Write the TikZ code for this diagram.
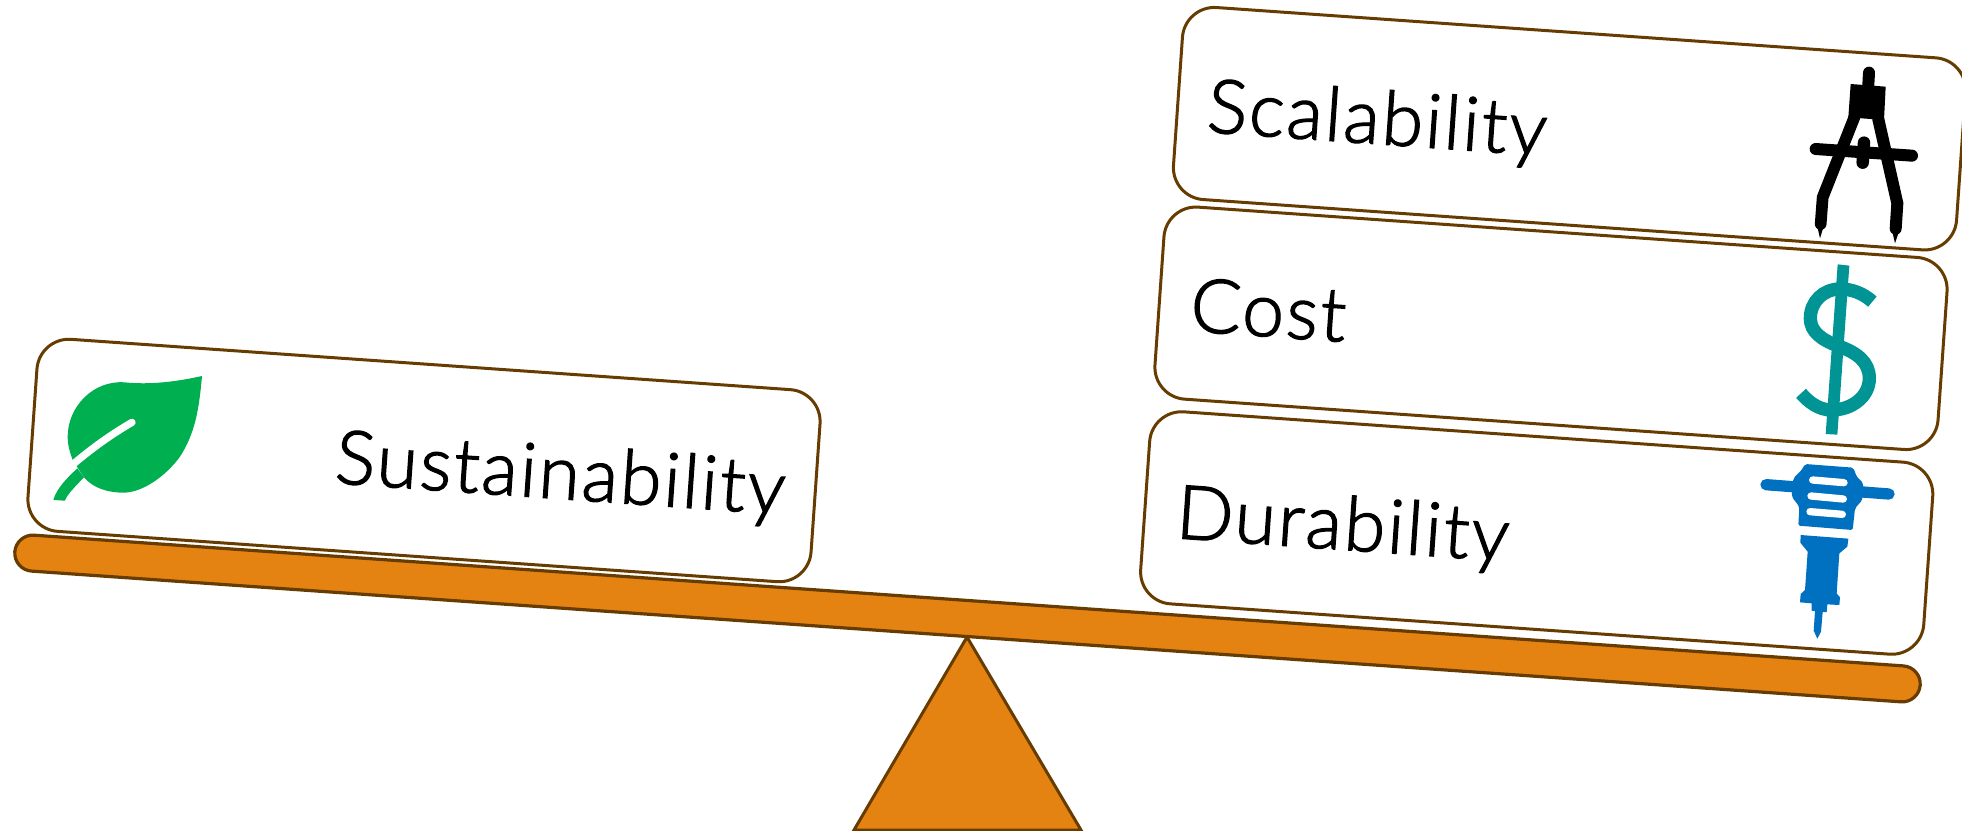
\documentclass[tikz,border=0pt]{standalone}
\usepackage{fontspec}
\setmainfont{Lato}[UprightFont=* Light,LetterSpace=2.8,FakeBold=1.8]
\definecolor{edgebrown}{HTML}{663C00}
\definecolor{beamorange}{HTML}{E48312}
\definecolor{leafgreen}{HTML}{00B050}
\definecolor{dollarteal}{HTML}{009494}
\definecolor{hammerblue}{HTML}{0070C0}
\tikzset{
  card/.style={draw=edgebrown,line width=3pt,fill=white,rectangle,rounded corners=32pt,minimum width=785pt,minimum height=192.5pt,inner sep=0pt,outer sep=0pt,rotate=-4},
  beam/.style={draw=edgebrown,line width=3.2pt,fill=beamorange,rectangle,rounded corners=18pt,minimum width=1910pt,minimum height=36pt,inner sep=0pt,outer sep=0pt,rotate=-4},
  lbl/.style={anchor=base west,inner sep=0pt,outer sep=0pt,rotate=-4,text=black,font=\fontsize{75}{90}\selectfont},
  zoomgrid/.style={x=0.33333pt,y=-0.33333pt},
}
\begin{document}
\begin{tikzpicture}[x=1pt,y=-1pt]
\useasboundingbox (0,0) rectangle (1962,830);
\clip (0,0) rectangle (1962,830);
\fill[white] (0,0) rectangle (1962,830);
% fulcrum
\draw[edgebrown,line width=3pt,fill=beamorange,line join=miter] (967,637) -- (1081,830) -- (854,830) -- cycle;
% beam
\node[beam] (plank) at (967.5,618.5) {};
% cards
\node[card] (cardsus) at (424,460.5) {};
\node[card] (cardsca) at (1569.5,128.7) {};
\node[card] (cardcos) at (1551,328.3) {};
\node[card] (carddur) at (1536.7,533) {};
% labels
\node[lbl] (tsus) at (334,483) {Sustainability};
\node[lbl] (tsca) at (1206,132) {Scalability};
\node[lbl] (tcos) at (1189,331) {Cost};
\node[lbl] (tdur) at (1175,538) {Durability};
% leaf
\begin{scope}[shift={(0,400)},zoomgrid]
\fill[leafgreen] (606,-72) .. controls (530,-55) and (450,-45) .. (374,-53)
  .. controls (280,-60) and (203,20) .. (203,110)
  .. controls (203,135) and (210,160) .. (219,182) -- (252,232)
  .. controls (280,265) and (325,278) .. (370,278)
  .. controls (430,278) and (500,225) .. (540,170)
  .. controls (585,100) and (597,30) .. (606,-72) -- cycle;
\draw[white,line width=7.3pt,line cap=round] (396,67) .. controls (340,100) and (280,140) .. (205,205);
\fill[leafgreen] (160,300) .. controls (170,265) and (200,235) .. (232,205) -- (252,232)
  .. controls (225,260) and (200,285) .. (195,302) -- cycle;
\end{scope}
% compass
\begin{scope}[shift={(1700,40)},zoomgrid]
\draw[black,line width=12pt,line cap=round] (507,98) -- (504,150);
\fill[black] (452,132) -- (557,140) -- (552,240) -- (445,232) -- cycle;
\draw[black,line width=11.7pt,line join=miter,line cap=round] (463,232) -- (368,472) -- (362,552);
\draw[black,line width=12pt,line join=miter,line cap=round] (535,238) -- (592,490) -- (587,566);
\fill[black] (352,560) -- (370,562) -- (360,595) -- cycle;
\fill[black] (577,575) -- (596,577) -- (585,610) -- cycle;
\draw[black,line width=12pt,line cap=round] (347,327) -- (636,347);
\draw[black,line width=12.5pt,line cap=round] (492,308) -- (488,368);
\end{scope}
% dollar
\begin{scope}[shift={(1700,290)},zoomgrid]
\fill[dollarteal] (413,-77) -- (448,-73) -- (412,434) -- (377,432) -- cycle;
\draw[dollarteal,line width=13.3pt] (517,35) .. controls (490,10) and (455,-3) .. (420,-3)
  .. controls (370,-3) and (331,35) .. (331,85)
  .. controls (331,125) and (365,150) .. (415,168)
  .. controls (470,188) and (508,215) .. (508,265)
  .. controls (508,320) and (455,360) .. (395,360)
  .. controls (355,360) and (325,335) .. (303,310);
\end{scope}
% jackhammer
\begin{scope}[shift={(1700,290)},zoomgrid]
\draw[hammerblue,line width=11.3pt,line cap=round] (198,584) -- (567,612);
\fill[hammerblue,rounded corners=2pt] (315,522) -- (460,533) -- (470,560) -- (490,580) -- (487,630) -- (465,655) -- (458,720) -- (295,707) -- (298,650) -- (275,620) -- (280,565) -- (305,540) -- cycle;
\draw[white,line width=7.3pt,line cap=round] (338,570) -- (432,578) (333,618) -- (430,627) (330,665) -- (427,673);
\end{scope}
\begin{scope}[shift={(1720,500)},zoomgrid]
\fill[hammerblue] (242,105) -- (385,116) -- (382,140) -- (358,160) -- (350,280) -- (360,292) -- (358,315) -- (322,313) -- (320,336) -- (308,336) -- (303,395) -- (292,416) -- (281,392) -- (285,333) -- (275,332) -- (275,310) -- (240,307) -- (242,282) -- (255,270) -- (263,155) -- (241,128) -- cycle;
\end{scope}
\end{tikzpicture}
\end{document}
